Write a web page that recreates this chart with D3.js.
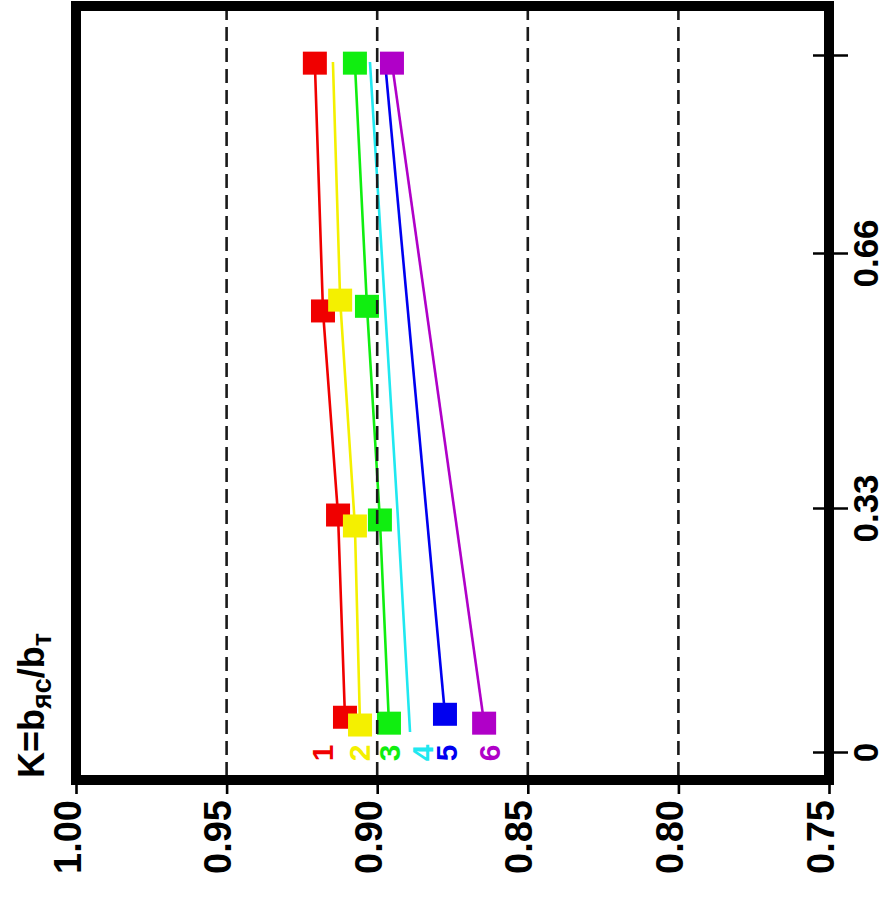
<!DOCTYPE html>
<html><head><meta charset="utf-8">
<script src="https://cdn.jsdelivr.net/npm/d3@7"></script>
<style>body{margin:0;background:#fff}svg{display:block}</style>
</head><body><svg id="c" width="888" height="900"></svg>
<script>
// ---- data ----
const valueTicks = [1.00, 0.95, 0.90, 0.85, 0.80, 0.75];
const valueTickLabels = ["1.00", "0.95", "0.90", "0.85", "0.80", "0.75"];
const gridValues = [0.95, 0.90, 0.85, 0.80];
const kTicks = [0, 0.33, 0.66, 1];
const kTickLabels = ["0", "0.33", "0.66", ""];
const seriesNames = ["1", "2", "3", "4", "5", "6"];
const seriesColors = ["#f00000", "#f4f000", "#10ee10", "#20e8f0", "#0000f0", "#b000c8"];

const k1 = [0.047, 0.3205, 0.585, 0.986];
const v1 = [0.9107, 0.9130, 0.9180, 0.9207];
const m1 = [1, 1, 1, 1];
const k2 = [0.0365, 0.3057, 0.599, 0.988];
const v2 = [0.9057, 0.9074, 0.9123, 0.9147];
const m2 = [1, 1, 1, 0];
const k3 = [0.039, 0.3138, 0.591, 0.986];
const v3 = [0.8961, 0.8991, 0.9034, 0.9074];
const m3 = [1, 1, 1, 1];
const k4 = [0.027, 0.3150, 0.590, 0.988];
const v4 = [0.8891, 0.8931, 0.8974, 0.9024];
const m4 = [0, 0, 0, 0];
const k5 = [0.051, 0.988];
const v5 = [0.8775, 0.8974];
const m5 = [1, 0];
const k6 = [0.039, 0.986];
const v6 = [0.8645, 0.8951];
const m6 = [1, 1];

// ---- layout / style ----
const labelShift = [-12, 10, 11, 23, 12, 16];
const PL = 76, PR = 829, PT = 6, PB = 780;

const svg = d3.select("#c");
const x = d3.scaleLinear().domain([1.0, 0.75]).range([PL, PR]);
const y = d3.scaleLinear().domain(kTicks).range([752, 508, 253, 55]);

const series = seriesNames.map((n, i) => {
  const ks = [k1, k2, k3, k4, k5, k6][i];
  const vs = [v1, v2, v3, v4, v5, v6][i];
  const ms = [m1, m2, m3, m4, m5, m6][i];
  return { name: n, color: seriesColors[i], pts: ks.map((k, j) => ({ k, v: vs[j], m: ms[j] })) };
});

const font = "'Liberation Sans', Arial, sans-serif";

// series lines + markers
const line = d3.line().x(d => x(d.v)).y(d => y(d.k));
const g = svg.append("g");
series.forEach(s => {
  g.append("path").attr("d", line(s.pts)).attr("fill", "none")
    .attr("stroke", s.color).attr("stroke-width", 2.6);
});
series.forEach(s => {
  g.selectAll(null).data(s.pts.filter(p => p.m)).enter().append("rect")
    .attr("x", d => x(d.v) - 12).attr("y", d => y(d.k) - 11.5)
    .attr("width", 24).attr("height", 23).attr("fill", s.color);
});

// dashed grid (drawn over markers)
svg.append("g").selectAll("line").data(gridValues).enter().append("line")
  .attr("x1", d => x(d)).attr("x2", d => x(d))
  .attr("y1", PT).attr("y2", PB)
  .attr("stroke", "#1a1a1a").attr("stroke-width", 2.6)
  .attr("stroke-dasharray", "14,7");

// series number labels
series.forEach((s, i) => {
  const bx = x(s.pts[0].v) + labelShift[i];
  svg.append("text").attr("transform", `translate(${bx},753) rotate(-90)`)
    .attr("text-anchor", "middle").attr("font-family", font).attr("font-weight", "bold")
    .attr("font-size", 30).attr("fill", s.color).text(s.name);
});

// bottom (value) axis
const ax = d3.axisBottom(x).tickValues(valueTicks)
  .tickFormat((d, i) => valueTickLabels[i]).tickSizeInner(14).tickSizeOuter(0);
const gx = svg.append("g").attr("transform", `translate(0,${PB})`).call(ax);
gx.select(".domain").remove();
gx.selectAll(".tick line").attr("stroke", "#000").attr("stroke-width", 2.6);
gx.selectAll(".tick text").attr("x", 0).attr("y", 0).attr("dy", null)
  .attr("transform", "translate(4,20) rotate(-90)")
  .attr("text-anchor", "end").attr("font-family", font).attr("font-weight", "bold")
  .attr("font-size", 38).attr("fill", "#000");

// right (K) axis
const ay = d3.axisRight(y).tickValues(kTicks)
  .tickFormat((d, i) => kTickLabels[i]).tickSizeInner(19).tickSizeOuter(0);
const gy = svg.append("g").attr("transform", `translate(${PR},0)`).call(ay);
gy.select(".domain").remove();
gy.selectAll(".tick line").attr("x1", -16).attr("stroke", "#000").attr("stroke-width", 2.6);
gy.selectAll(".tick text").attr("x", 0).attr("dy", null)
  .attr("transform", "translate(49,0) rotate(-90)")
  .attr("text-anchor", "middle").attr("font-family", font).attr("font-weight", "bold")
  .attr("font-size", 35).attr("fill", "#000");

// frame
svg.append("rect").attr("x", PL).attr("y", PT).attr("width", PR - PL).attr("height", PB - PT)
  .attr("fill", "none").attr("stroke", "#000").attr("stroke-width", 10);

// axis title
const t = svg.append("text").attr("transform", "translate(44,778) rotate(-90)")
  .attr("text-anchor", "start").attr("font-family", font).attr("font-weight", "bold")
  .attr("font-size", 36).attr("fill", "#000");
t.append("tspan").text("K=b");
t.append("tspan").attr("font-size", 27).attr("dy", 7).text("яс");
t.append("tspan").attr("dy", -7).text("/b");
t.append("tspan").attr("font-size", 27).attr("dy", 7).text("т");
</script></body></html>
